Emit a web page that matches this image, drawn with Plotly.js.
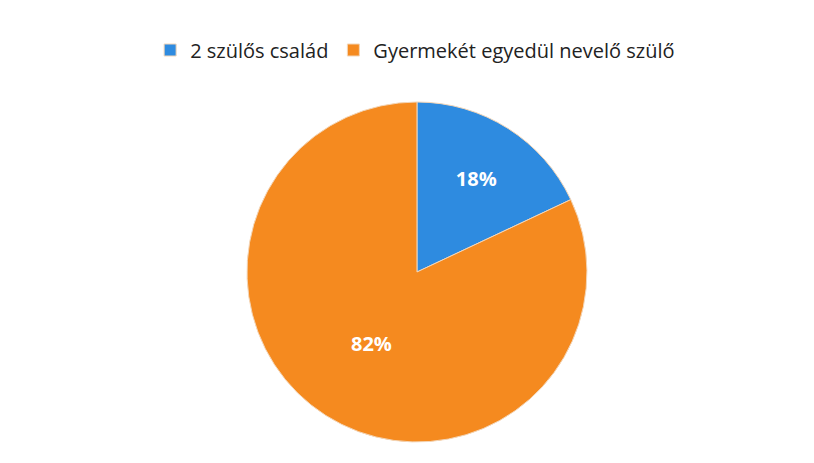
<!DOCTYPE html>
<html><head><meta charset="utf-8">
<script src="https://cdn.plot.ly/plotly-3.0.1.min.js"></script>
<style>html,body{margin:0;padding:0;background:#fff;}</style>
</head><body><div id="chart" style="width:814px;height:463px;"></div>
<script>
const labels = ["2 szülős család", "Gyermekét egyedül nevelő szülő"];
const values = [18, 82];
const colors = ["#2e8be0", "#f58a1f"];

Plotly.newPlot("chart", [{
  type: "pie",
  labels: labels,
  values: values,
  sort: false,
  direction: "clockwise",
  rotation: 0,
  marker: {colors: colors, line: {color: "#f3d6b8", width: 1}},
  textinfo: "percent",
  texttemplate: "%{percent:.0%}",
  textposition: "inside",
  insidetextorientation: "horizontal",
  textfont: {family: "Open Sans, Liberation Sans, sans-serif", size: 20, color: "#ffffff", weight: "bold"},
  hoverinfo: "label+percent",
  domain: {x: [0.3034, 0.7211], y: [0.0454, 0.7797]}
}], {
  width: 814, height: 463,
  margin: {l: 0, r: 0, t: 0, b: 0},
  paper_bgcolor: "#ffffff",
  showlegend: true,
  legend: {orientation: "h", x: 0.51, xanchor: "center", y: 0.892, yanchor: "middle",
    font: {family: "Open Sans, Liberation Sans, sans-serif", size: 20, color: "#222222"},
    itemwidth: 30, tracegroupgap: 0}
}, {displayModeBar: false, staticPlot: true});
</script></body></html>
